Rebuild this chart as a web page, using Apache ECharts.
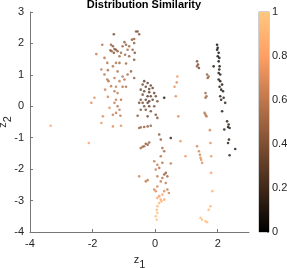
<!DOCTYPE html>
<html><head><meta charset="utf-8">
<script src="https://cdn.jsdelivr.net/npm/echarts@6/dist/echarts.min.js"></script>
<style>html,body{margin:0;padding:0;background:#fff}#c{width:287px;height:268px}</style>
</head><body><div id="c"></div>
<script>
// [z1, z2, similarity]
const leftCluster = [
[-1.32,2.29,0.35],[-0.61,2.38,0.4],[-0.56,2.38,0.4],[-0.67,2.14,0.45],[-0.51,2.29,0.4],[-0.74,2.12,0.45],
[-1.69,1.96,0.55],[-1.41,1.96,0.45],[-1.35,1.91,0.4],[-1.30,1.82,0.4],[-1.25,1.80,0.4],[-1.39,1.75,0.45],
[-1.20,1.75,0.45],[-1.32,1.70,0.4],[-1.43,1.78,0.45],[-0.98,2.04,0.45],[-0.93,1.96,0.45],[-0.83,1.91,0.5],
[-1.04,1.91,0.5],[-0.88,1.80,0.5],[-0.72,1.80,0.45],[-0.67,2.01,0.45],[-1.09,1.70,0.5],[-0.96,1.64,0.5],
[-1.14,1.59,0.5],[-0.83,1.59,0.45],[-0.67,1.48,0.4],[-0.65,1.70,0.4],[-1.88,1.66,0.6],[-1.62,1.54,0.55],
[-1.53,1.38,0.55],[-1.25,1.38,0.55],[-1.14,1.38,0.5],[-0.93,1.36,0.5],[-1.35,1.27,0.55],[-1.72,1.17,0.6],
[-1.51,1.15,0.55],[-1.20,1.11,0.55],[-0.77,1.11,0.45],[-0.88,1.01,0.5],[-1.04,0.95,0.55],[-0.67,0.90,0.45],
[-1.62,1.01,0.55],[-1.53,0.85,0.55],[-1.49,0.80,0.55],[-1.30,0.90,0.6],[-1.14,0.80,0.6],[-0.98,0.85,0.55],
[-1.41,0.64,0.6],[-1.25,0.62,0.6],[-1.60,0.53,0.65],[-1.04,0.62,0.55],[-0.93,0.62,0.55],[-1.30,0.48,0.6],
[-1.94,0.27,0.7],[-1.51,0.30,0.65],[-1.20,0.42,0.6],[-1.25,0.21,0.6],[-1.09,0.21,0.55],[-2.04,0.11,0.7],
[-1.30,0.11,0.6],[-1.20,0.00,0.55],[-1.46,-0.05,0.7],[-1.14,-0.11,0.6],[-1.25,-0.21,0.6],[-1.67,-0.32,0.7],
[-1.35,-0.27,0.6],[-1.11,-0.30,0.6],[-1.72,-0.53,0.75],[-1.35,-0.64,0.7],[-1.09,-0.62,0.7],[-2.12,-1.17,0.8],
[-3.34,-0.62,0.8]
];
const midCluster = [
[-0.35,0.80,0.3],[-0.24,0.74,0.3],[-0.40,0.69,0.35],[-0.14,0.66,0.3],[-0.30,0.62,0.3],[-0.19,0.55,0.3],
[-0.46,0.53,0.35],[-0.08,0.58,0.3],[-0.35,0.48,0.3],[-0.19,0.45,0.3],[-0.03,0.42,0.3],[-0.40,0.37,0.35],
[-0.24,0.32,0.25],[-0.14,0.32,0.3],[0.02,0.32,0.35],[-0.30,0.21,0.3],[-0.19,0.16,0.25],[-0.46,0.21,0.35],
[-0.08,0.21,0.3],[0.07,0.16,0.35],[-0.24,0.11,0.3],[-0.40,0.11,0.35],[-0.51,0.11,0.35],[-0.35,0.00,0.35],
[-0.19,0.00,0.3],[-0.03,0.00,0.35],[-0.30,-0.11,0.35],[-0.46,-0.11,0.4],[-0.14,-0.16,0.35],[-0.56,-0.30,0.4],
[-0.24,-0.32,0.35],[0.02,-0.27,0.35],[0.29,0.27,0.05],[0.50,-1.01,0.1],
[-0.51,-0.69,0.5],[-0.46,-0.67,0.5],[-0.35,-0.66,0.45],[-0.24,-0.64,0.45],[-0.14,-0.62,0.45],
[-0.46,-1.33,0.5],[-0.35,-1.27,0.5],[-0.24,-1.22,0.45],[-0.19,-1.15,0.45],[-0.30,-1.19,0.45],[-0.40,-1.29,0.5],
[0.07,-0.37,0.4],[0.13,-0.90,0.4],[0.18,-1.06,0.45]
];
const midLowerColumn = [
[0.23,-1.33,0.5],[0.29,-1.43,0.5],[0.18,-1.59,0.55],[0.23,-1.80,0.55],[-0.03,-1.75,0.6],[0.07,-1.86,0.6],
[0.13,-1.96,0.55],[0.50,-1.82,0.6],[0.34,-2.12,0.45],[0.29,-2.17,0.45],[0.39,-2.23,0.5],[0.23,-2.28,0.55],
[0.07,-2.23,0.6],[0.02,-2.01,0.6],[0.18,-2.39,0.6],[0.34,-2.44,0.6],[0.07,-2.55,0.65],[-0.03,-2.65,0.65],
[0.02,-2.70,0.7],[0.29,-2.70,0.7],[0.44,-2.76,0.65],[0.39,-2.65,0.6],[0.13,-2.86,0.75],[0.23,-2.81,0.8],
[0.07,-2.92,0.8],[0.18,-2.97,0.85],[0.29,-2.97,0.8],[0.13,-3.08,0.9],[0.20,-3.02,0.9],[0.07,-3.18,0.9],
[0.05,-3.29,0.9],[0.07,-3.39,0.95],[0.02,-3.50,0.95],[0.05,-3.61,0.95],[-0.51,-2.23,0.65],[-0.30,-2.39,0.6],
[-0.24,-2.35,0.6]
];
const rightColumns = [
[0.71,0.95,0.75],[0.69,0.76,0.7],[0.62,0.62,0.7],[0.66,0.32,0.7],[0.74,-0.32,0.7],[0.81,-1.11,0.75],[0.97,-1.59,0.75],
[1.34,1.43,0.35],[1.37,1.33,0.35],[1.40,1.22,0.35],[1.34,1.27,0.4],
[1.66,1.01,0.45],[1.71,0.95,0.45],[1.68,0.90,0.45],
[1.61,0.42,0.5],[1.64,0.32,0.5],[1.61,0.27,0.5],
[1.58,-0.21,0.55],[1.61,-0.27,0.55],[1.64,-0.32,0.55],
[1.75,-0.76,0.65],[1.77,-1.17,0.7],[1.79,-1.59,0.75],[1.79,-2.12,0.8],[1.83,-2.70,0.9],[1.77,-3.18,0.9],[1.71,-3.29,0.9],
[1.45,-3.55,0.95],[1.50,-3.61,0.95],[1.61,-3.66,0.95],[1.66,-3.69,0.95],
[1.34,-1.27,0.65],[1.40,-1.43,0.65],[1.43,-1.54,0.65],[1.45,-1.64,0.7],[1.47,-1.70,0.7],[1.50,-1.80,0.7]
];
const blackColumn = [
[1.98,1.96,0.02],[2.00,1.86,0.02],[1.98,1.80,0.03],[2.03,1.70,0.03],[2.00,1.59,0.03],[2.05,1.54,0.04],
[2.03,1.43,0.04],[1.87,1.27,0.06],[2.06,1.27,0.05],[2.05,1.17,0.05],[2.03,1.06,0.05],[2.08,1.01,0.06],
[2.03,0.85,0.06],[2.08,0.80,0.06],[2.14,0.69,0.07],[2.06,0.62,0.07],[2.11,0.53,0.07],[2.17,0.48,0.08],
[2.08,0.32,0.08],[2.19,0.27,0.08],[2.11,0.21,0.08],[2.24,0.11,0.1],[2.30,-0.48,0.1],[2.21,-0.74,0.1],
[2.35,-0.58,0.1],[2.33,-0.66,0.1],[2.38,-0.69,0.1],[2.36,-1.06,0.12],[2.33,-1.17,0.12],[2.38,-1.56,0.12],
[2.56,-1.36,0.1],[2.14,-0.16,0.08]
];
const xTicks = [-4,-2,0,2];
const colorTicks = [0,0.2,0.4,0.6,0.8,1];
const copper = ['#000000','#402819','#805033','#bf784c','#ff9f65','#ffc77f'];

const allPoints = leftCluster.concat(midCluster, midLowerColumn, rightColumns, blackColumn);
const font = 'Liberation Sans, Arial, Helvetica, sans-serif';
const txt = '#262626';
const chart = echarts.init(document.getElementById('c'), null, {renderer:'canvas'});
chart.setOption({
  animation:false,
  title:{text:'Distribution Similarity', left:139, textAlign:'center', top:-6,
    textStyle:{fontFamily:font, fontSize:11, fontWeight:'bold', color:'#000'}},
  grid:[{left:30, top:12, width:219, height:220, containLabel:false, outerBoundsMode:'none'},
        {left:259, top:12, width:10, height:220, show:true, borderColor:'#888', borderWidth:0.8, containLabel:false, outerBoundsMode:'none'}],
  visualMap:{show:false, min:0, max:1, dimension:2, seriesIndex:0, inRange:{color:copper}},
  xAxis:[{type:'value', gridIndex:0, min:-4, max:3, interval:1,
      axisLine:{show:true, onZero:false, lineStyle:{color:'#777'}},
      axisTick:{show:true, inside:true, length:3, customValues:xTicks, lineStyle:{color:'#777'}},
      axisLabel:{customValues:xTicks, color:txt, fontFamily:font, fontSize:11, margin:6},
      splitLine:{show:false},
      name:'{z|z}{s|1}', nameLocation:'middle', nameGap:18, nameMoveOverlap:false,
      nameTextStyle:{rich:{z:{fontFamily:font, fontSize:11, color:txt}, s:{fontFamily:font, fontSize:11, color:txt, padding:[9,0,0,0]}}}},
    {type:'category', gridIndex:1, data:[''], show:false}],
  yAxis:[{type:'value', gridIndex:0, min:-4, max:3, interval:1,
      axisLine:{show:true, onZero:false, lineStyle:{color:'#777'}},
      axisTick:{show:true, inside:true, length:3, lineStyle:{color:'#777'}},
      axisLabel:{color:txt, fontFamily:font, fontSize:11, margin:6},
      splitLine:{show:false},
      name:'{z|z}{s|2}', nameLocation:'middle', nameGap:17, nameRotate:90, nameMoveOverlap:false,
      nameTextStyle:{rich:{z:{fontFamily:font, fontSize:11, color:txt}, s:{fontFamily:font, fontSize:11, color:txt, padding:[9,0,0,0]}}}},
    {type:'value', gridIndex:1, min:0, max:1, interval:0.2, position:'right',
      axisLine:{show:false}, axisTick:{show:true, inside:true, length:2, lineStyle:{color:'#888'}},
      axisLabel:{color:txt, fontFamily:font, fontSize:11, margin:3, formatter:v=>String(+v.toFixed(1))},
      splitLine:{show:false}}],
  series:[
    {type:'scatter', xAxisIndex:0, yAxisIndex:0, data:allPoints, symbol:'circle', symbolSize:2.6},
    {type:'bar', xAxisIndex:1, yAxisIndex:1, data:[colorTicks[colorTicks.length-1]], barWidth:'100%', silent:true,
     itemStyle:{color:new echarts.graphic.LinearGradient(0,1,0,0,[
       {offset:0,color:copper[0]},{offset:0.8,color:copper[4]},{offset:1,color:copper[5]}])}}
  ]
});
</script></body></html>
